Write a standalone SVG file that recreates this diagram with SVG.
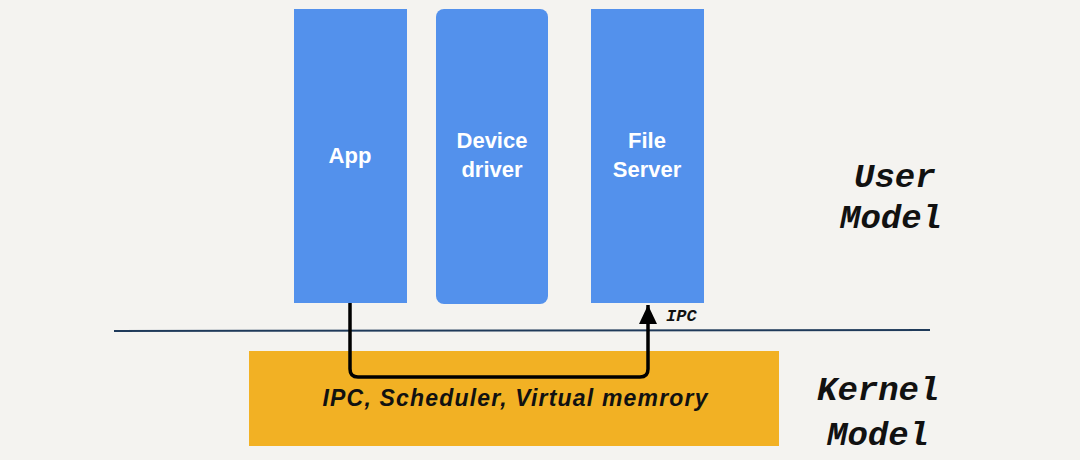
<svg xmlns="http://www.w3.org/2000/svg" width="1080" height="460" viewBox="0 0 1080 460">
  <defs>
    <style>
      .box { fill: #5391ec; }
      .lbl { font-family: "Liberation Sans", "Noto Sans", sans-serif; font-weight: bold; font-size: 22px; fill: #ffffff; text-anchor: middle; }
      .klbl { font-family: "Liberation Sans", "Noto Sans", sans-serif; font-weight: bold; font-style: italic; font-size: 23px; fill: #111111; text-anchor: middle; }
      .side { font-family: "Liberation Mono", "Courier New", monospace; font-weight: bold; font-style: italic; font-size: 34px; fill: #111111; }
      .ipc { font-family: "Liberation Mono", "Courier New", monospace; font-weight: bold; font-style: italic; font-size: 17px; fill: #111111; }
      .conn { fill: none; stroke: #000000; stroke-width: 3.5; stroke-linejoin: round; }
    </style>
    <marker id="arrow" viewBox="0 0 19 18" refX="19" refY="9" markerWidth="19" markerHeight="18" markerUnits="userSpaceOnUse" orient="auto">
      <path d="M0 0 L19 9 L0 18 Z" fill="#000000"/>
    </marker>
  </defs>
  <rect x="0" y="0" width="1080" height="460" fill="#f4f3f0"/>

  <g id="divider">
    <line x1="114" y1="331" x2="930" y2="330" stroke="#1f3a5a" stroke-width="2"/>
  </g>

  <g id="kernel">
    <rect x="249" y="351" width="530" height="95" fill="#f2b124"/>
    <text class="klbl" x="515" y="406" textLength="385" lengthAdjust="spacing">IPC, Scheduler, Virtual memrory</text>
  </g>

  <g id="app">
    <rect class="box" x="294" y="9" width="113" height="294"/>
    <text class="lbl" x="350" y="163">App</text>
  </g>

  <g id="device-driver">
    <rect class="box" x="436" y="9" width="112" height="295" rx="8" ry="8"/>
    <text class="lbl" x="492" y="148">Device</text>
    <text class="lbl" x="492" y="177">driver</text>
  </g>

  <g id="file-server">
    <rect class="box" x="591" y="9" width="113" height="294"/>
    <text class="lbl" x="647" y="148">File</text>
    <text class="lbl" x="647" y="177">Server</text>
  </g>

  <g id="connectors">
    <path class="conn" d="M350 303 L350 369 Q350 377 358 377 L640 377 Q648 377 648 369 L648 305" marker-end="url(#arrow)"/>
    <text class="ipc" x="666" y="321">IPC</text>
  </g>

  <g id="user-model">
    <text class="side" x="854" y="187">User</text>
    <text class="side" x="840" y="228">Model</text>
  </g>

  <g id="kernel-model">
    <text class="side" x="817" y="400">Kernel</text>
    <text class="side" x="827" y="445">Model</text>
  </g>
</svg>
